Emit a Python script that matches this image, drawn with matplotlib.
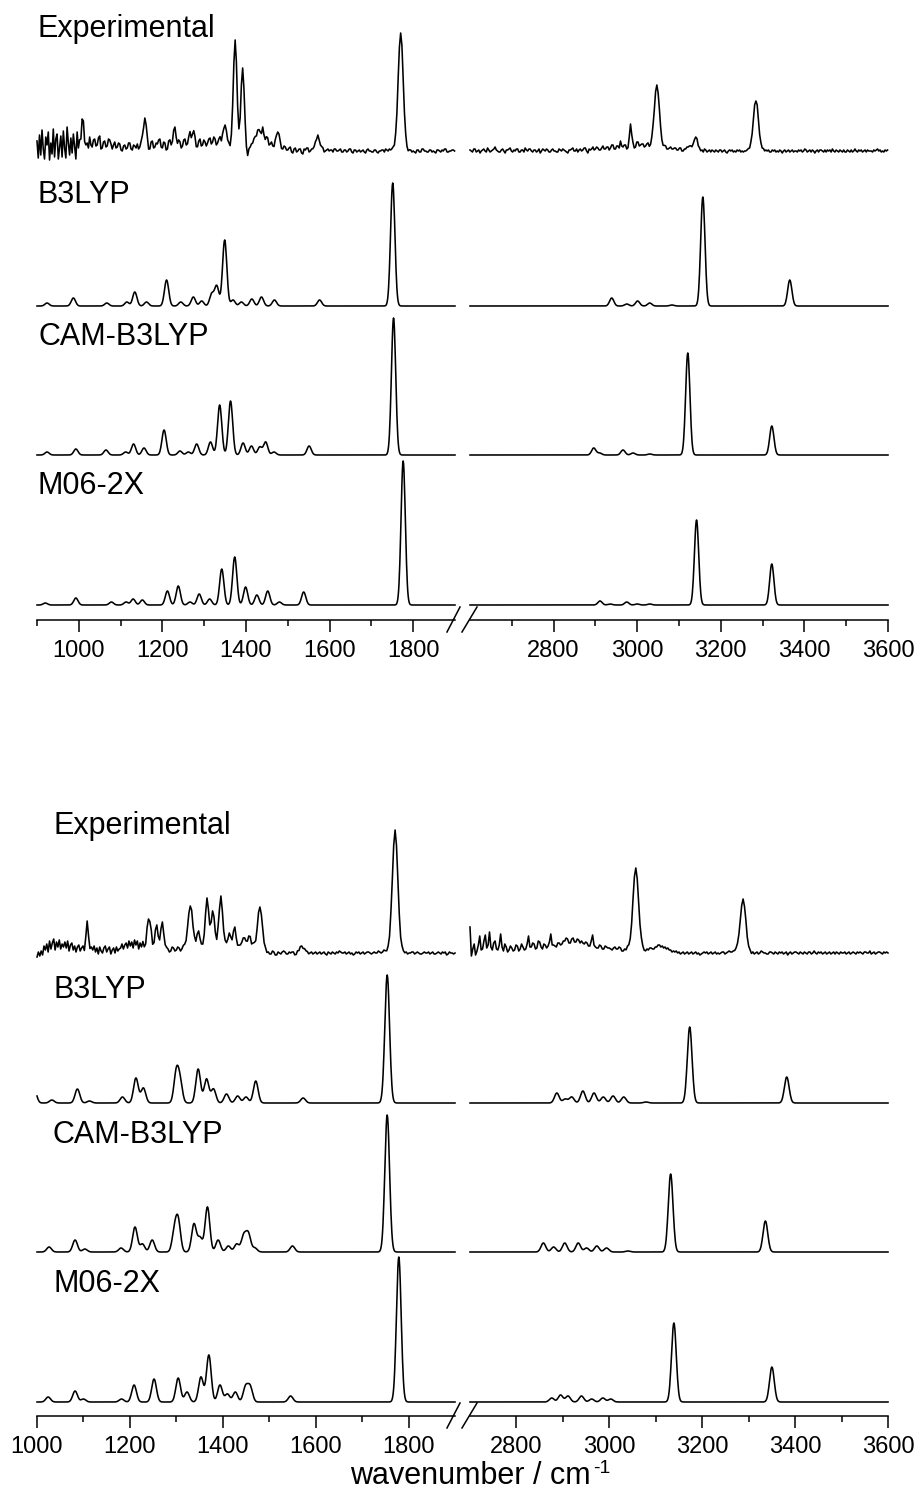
import numpy as np
import matplotlib
matplotlib.use("Agg")
import matplotlib.pyplot as plt
from matplotlib.lines import Line2D

plt.rcParams['font.family'] = ['Liberation Sans', 'DejaVu Sans']

# ------------------------------------------------------------------ data
labels = ["Experimental", "B3LYP", "CAM-B3LYP", "M06-2X"]
xlabel_main = "wavenumber / cm"
xlabel_sup = "-1"

top_left_range = (900, 1900)
top_right_range = (2600, 3600)
bot_left_range = (1000, 1900)
bot_right_range = (2700, 3600)

left_major = [1000, 1200, 1400, 1600, 1800]
top_left_minor = [900, 1100, 1300, 1500, 1700]
bot_left_minor = [1100, 1300, 1500, 1700]
right_major = [2800, 3000, 3200, 3400, 3600]
top_right_minor = [2700, 2900, 3100, 3300, 3500]
bot_right_minor = [2900, 3100, 3300, 3500]

exp_step = 3  # cm-1 sampling of the experimental traces
calc_fwhm = 12

# ---- upper panel: experimental (peaks + read-off baseline wiggle)
exp1_left_pos = [1008, 1158, 1230, 1272, 1350, 1374, 1392, 1428, 1440, 1476, 1572, 1770]
exp1_left_amp = [20, 30, 10, 12, 20, 109, 81, 12, 12, 16, 14, 119]
exp1_left_fwhm = [6, 8, 10, 10, 10, 10, 10, 8, 8, 8, 10, 14]
exp1_left_noise = [
    10, -7, 16, -4, 21, 2, -8, 14, 6, 19, -9, 8, -3, 22, -6, 12, 17, -8, 4, 15,
    -6, 20, 3, -7, 24, 8, -4, 13, -2, 17, 5, -8, 19, 3, 10, 2, 12, 20, 8, 6,
    8, 3, 14, 6, 4, 11, 12, 5, 6, 13, 15, 2, 3, 9, 10, 4, 5, 12, 11, 7,
    2, 6, 9, 3, 4, 8, 7, 1, 0, 5, 6, 2, 3, 8, 8, 2, 1, 6, 5, 3,
    7, 2, 4, 9, 9, 3, 3, 6, 8, 1, 2, 9, 10, 3, 4, 8, 7, 11, 12, 4,
    3, 9, 8, 1, 2, 10, 11, 5, 6, 13, 14, 6, 4, 10, 9, 3, 5, 11, 12, 6,
    7, 13, 15, 4, 5, 11, 10, 3, 4, 10, 12, 5, 6, 11, 9, 5, 8, 12, 13, 7,
    9, 14, 12, 6, 8, 12, 14, 8, 10, 7, 6, 5, 4, 6, 3, 5, 5, 3, 2, 4,
    3, 2, 1, 3, 2, 0, 0, -4, -6, 2, 4, 7, 8, 12, 12, 7, 9, 13, 14, 9,
    12, 8, 9, 14, 13, 6, 7, 9, 5, 4, 8, 5, 3, 6, 6, 2, 2, 5, 4, 1,
    1, 3, 4, -1, -2, 2, 3, -1, 0, 2, 2, -2, -3, 2, 1, 3, 3, -1, 0, 2,
    2, 3, 4, 1, 2, 0, 1, 3, 3, -1, 0, 1, 2, 0, 1, 1, -1, 2, 2, 0,
    0, 1, 2, -1, -1, 1, 1, -1, 0, 2, 2, -1, -2, 1, 1, -1, 0, 1, -1, 0,
    1, -1, -2, 1, 2, 0, 0, -1, -1, 1, 1, -1, -2, 0, 0, 1, 1, -1, 2, 1,
    0, 2, 1, 2, 3, 1, 2, 0, 1, -1, -1, 1, 0, 1, 2, 0, -1, 1, 1, -1,
    0, -1, -2, 1, 1, -1, -1, 2, 2, 0, 0, -1, -1, 1, 1, -1, 0, -1, -2, 1,
    1, 0, -1, 1, 0, 2, 2, -1, -1, 0, 0, 1, 1, 0]
exp1_right_pos = [2984, 3047, 3140, 3284]
exp1_right_amp = [22, 64, 12, 48]
exp1_right_fwhm = [5, 14, 10, 14]
exp1_right_noise = [
    1, 0, -1, 2, 2, -1, 0, 1, -2, 0, 1, 2, 0, -1, 3, 1, -1, 0, 1, 2,
    4, 1, 0, -1, -1, 1, 2, 0, -2, 1, 1, 2, 3, 0, -1, 1, 0, 2, 2, -1,
    -1, 1, 1, -1, 3, 1, 0, 2, 2, 0, -1, 1, 1, -1, 0, 2, -2, 0, 2, 1,
    0, 2, 1, -1, -1, 1, 2, 0, 0, -1, -1, 2, 1, 0, 2, 1, 0, -1, -2, 1,
    1, 2, 3, 0, 0, 2, -1, 1, 2, 0, 1, 3, 3, 0, -2, 2, 1, 2, 4, 1,
    2, 4, 3, 1, 1, 3, 5, 2, 2, 4, 4, 1, 3, 6, 6, 2, 2, 5, 5, 3,
    10, 5, 4, 6, 6, 2, 3, 6, 5, 8, 8, 3, 4, 9, 9, 5, 6, 7, 7, 4,
    5, 7, 8, 4, 4, 6, 6, 3, 3, 2, 2, 4, 4, 3, 3, 5, 5, 2, 2, 3,
    4, 2, 2, 3, 3, 1, 1, 3, 3, 0, 0, 2, 2, 4, 4, 5, 5, 3, 3, 2,
    2, 3, 1, 2, 0, 1, -1, 2, 1, -1, 0, 1, -1, 1, 0, -1, 1, 0, -1, 1,
    1, -1, 0, 1, -1, -2, 0, 1, 0, 1, -1, 0, -1, 1, 0, 1, -1, 0, -1, 0,
    0, 1, 2, 1, 3, 2, 3, 4, 2, 4, 3, 1, 2, 1, 2, 0, 1, 0, 1, -1,
    -1, 1, 0, 1, -1, 0, -1, 1, 0, -2, 0, 1, -1, 0, 1, -1, 0, 1, -1, 0,
    0, -1, 1, 0, 1, -1, 0, 2, 1, -1, 0, 1, -1, 1, 0, -2, 0, 1, -1, 1,
    1, 0, -1, 1, -1, 1, 0, 1, -1, 2, 0, -1, 1, 0, -1, 1, 0, -1, 1, -1,
    -1, 1, 0, -1, 1, -1, 0, 2, 0, -1, 1, 0, 1, -1, 0, 1, -1, 1, 0, 0,
    0, -1, 1, 0, 1, 2, 0, 1, -1, 0, -1, 1, 0, 1]

# ---- upper panel: calculated (position cm-1, intensity)
b3lyp1_left_pos = [924, 987, 1067, 1115, 1134, 1162, 1210, 1244, 1274, 1294, 1318, 1330,
                   1349, 1369, 1389, 1414, 1437, 1468, 1576, 1751]
b3lyp1_left_amp = [3, 8, 3, 4, 14, 4, 26, 4, 9, 5, 12, 20, 66, 6, 4, 7, 9, 6, 6, 123]
b3lyp1_right_pos = [2939, 2975, 3001, 3030, 3083, 3157, 3365]
b3lyp1_right_amp = [8, 2, 5, 3, 1, 109, 26]

cam1_left_pos = [924, 993, 1065, 1112, 1131, 1156, 1204, 1242, 1262, 1282, 1315, 1337, 1363,
                 1393, 1413, 1433, 1447, 1467, 1551, 1753]
cam1_left_amp = [3, 6, 5, 3, 11, 7, 25, 4, 3, 11, 13, 50, 54, 12, 9, 8, 13, 3, 9, 137]
cam1_right_pos = [2896, 2910, 2966, 2990, 3030, 3121, 3322]
cam1_right_amp = [7, 2, 5, 2, 1, 102, 29]

m06_1_left_pos = [920, 993, 1078, 1113, 1130, 1152, 1212, 1238, 1266, 1288, 1313, 1342, 1373,
                  1399, 1426, 1452, 1480, 1538, 1776]
m06_1_left_amp = [2, 7, 3, 3, 6, 5, 14, 19, 3, 11, 6, 36, 48, 18, 10, 14, 3, 13, 144]
m06_1_right_pos = [2911, 2935, 2975, 3000, 3030, 3142, 3322]
m06_1_right_amp = [4, 1, 3, 1, 1, 85, 41]

# ---- lower panel: experimental
exp2_left_pos = [1108, 1240, 1258, 1270, 1330, 1348, 1366, 1378, 1396, 1414, 1426, 1444,
                 1456, 1480, 1570, 1771]
exp2_left_amp = [24, 30, 18, 25, 45, 14, 50, 36, 52, 16, 18, 10, 14, 40, 4, 120]
exp2_left_fwhm = [6, 10, 8, 8, 12, 8, 8, 8, 10, 8, 8, 8, 8, 12, 14, 14]
exp2_left_noise = [
    -4, 1, -3, 2, -2, 7, 3, 9, 1, 12, 4, 10, 14, 3, 11, 6, 13, 4, 9, 6,
    11, 5, 12, 2, 8, 10, 3, 7, 1, 6, 8, 2, 5, 7, 1, 4, 8, 5, 3, 6,
    3, 7, 1, 5, -1, 6, 2, 0, 5, 7, 1, 4, 6, -1, 3, 5, 0, 6, 2, 4,
    5, 9, 4, 8, 10, 5, 12, 7, 11, 5, 13, 8, 12, 4, 10, 6, 11, 3, -2, 2,
    4, 8, 12, 5, 6, 11, 10, 4, 4, 7, 6, 2, 3, 5, 4, 1, 2, 6, 5, 2,
    3, 6, 5, 2, 4, 7, 6, 3, 3, 2, 2, 5, 4, 7, 6, 9, 8, 5, 6, 7,
    8, 6, 5, 9, 10, 5, 6, 12, 12, 7, 8, 4, 5, 2, 3, 7, 6, 3, 4, 5,
    6, 9, 8, 3, 4, 7, 6, 4, 5, 8, 7, 2, 3, 7, 6, 9, 8, 4, 5, 7,
    6, 5, 4, 2, 3, 0, 1, -1, -1, 2, 1, -2, -2, 1, 0, -1, 1, 2, 1, -1,
    -1, 1, 0, 1, 1, -2, -2, 1, 0, 3, 3, 1, 2, 1, 1, -1, 0, 1, -1, 0,
    1, -1, 0, 1, -1, 0, 1, -1, -2, 1, 0, -1, 1, 0, -1, 1, 0, 2, 1, 0,
    0, 1, -1, 0, 1, -1, 0, -2, -1, 1, 0, 1, -1, 0, 1, -1, 0, 1, 1, 0,
    -1, 0, 1, 0, 0, 2, 1, 0, 1, 3, 2, 1, 2, 1, 3, 1, 2, 3, 2, 1,
    1, 0, 2, 1, 0, 1, -1, 0, 0, 1, 1, -1, 0, 1, 0, -1, -1, 0, 1, 0,
    0, 1, -1, 0, 1, -1, -1, 0, 1, 0, -1, 1, 0, 1, -2, -1, 1, 0, 0, -1,
    0]
exp2_right_pos = [3057, 3288]
exp2_right_amp = [80, 53]
exp2_right_fwhm = [14, 14]
exp2_right_noise = [
    26, -3, 4, 9, -2, 2, 8, 17, 3, 4, 12, 18, 5, 8, 21, 6, 3, 10, 12, 4,
    3, 8, 19, 6, 2, 9, 6, 1, 3, 7, 5, 2, 3, 8, 7, 2, 4, 9, 6, 3,
    4, 9, 17, 6, 6, 10, 9, 4, 5, 12, 11, 6, 4, 9, 8, 5, 7, 11, 19, 8,
    8, 7, 6, 10, 10, 8, 9, 12, 12, 15, 14, 10, 10, 14, 15, 11, 11, 14, 13, 10,
    12, 10, 9, 11, 10, 7, 7, 12, 18, 8, 6, 5, 5, 8, 7, 4, 4, 7, 6, 5,
    5, 4, 3, 5, 6, 4, 4, 6, 5, 2, 2, 4, 3, 6, 5, 4, 4, 6, 6, 5,
    4, 3, 3, 5, 4, 2, 2, 4, 3, 5, 5, 4, 4, 6, 6, 8, 8, 6, 7, 5,
    6, 4, 5, 3, 3, 1, 2, 1, 2, 0, 1, -1, 0, 1, -1, 0, 1, -1, 0, 1,
    -1, 0, 1, -1, 0, -2, -1, 0, 1, 0, 1, -1, 0, 1, -1, 0, 1, -1, 0, -1,
    0, 1, 1, -1, 0, 1, 2, 1, 1, 2, 2, 3, 3, 2, 2, 1, 1, 0, 1, -1,
    0, 1, -1, 1, -1, 0, 1, -1, 0, 2, 1, 0, 0, -1, -1, 1, 1, 0, -1, 1,
    0, -1, 1, 0, 1, -1, 0, 1, -2, 0, 1, -1, 0, 1, 1, 0, -1, 1, 0, -1,
    1, 0, -1, 1, 1, -1, 0, 2, 0, -1, 1, 0, 1, -1, 0, 1, -1, 0, 1, -1,
    0, 1, -1, 1, 0, -1, 1, 0, 0, 1, -1, 0, 1, -1, 0, 1, 0, -1, 1, 0,
    1, 0, -1, 1, 1, 0, 0, 2, -1, 0, 1, -1, 0, 1, 1, 0, -1, 1, 0, 1,
    0]

# ---- lower panel: calculated
b3lyp2_left_pos = [994, 1032, 1087, 1113, 1184, 1213, 1229, 1300, 1308, 1347, 1365, 1380,
                   1408, 1432, 1450, 1471, 1573, 1754]
b3lyp2_left_amp = [14, 3, 14, 2, 6, 25, 15, 30, 20, 34, 24, 14, 9, 7, 6, 22, 5, 128]
b3lyp2_right_pos = [2887, 2905, 2919, 2943, 2967, 2987, 3008, 3031, 3079, 3173, 3382]
b3lyp2_right_amp = [10, 4, 6, 12, 10, 6, 7, 6, 1, 76, 26]

cam2_left_pos = [1026, 1082, 1103, 1181, 1211, 1227, 1248, 1296, 1304, 1338, 1351, 1367,
                 1390, 1412, 1430, 1445, 1455, 1469, 1550, 1754]
cam2_left_amp = [5, 12, 3, 4, 25, 8, 12, 20, 30, 28, 14, 45, 12, 6, 8, 16, 18, 4, 6, 137]
cam2_right_pos = [2858, 2880, 2904, 2933, 2951, 2973, 2994, 3040, 3132, 3336]
cam2_right_amp = [9, 5, 9, 9, 4, 6, 4, 1, 78, 31]

m06_2_left_pos = [1024, 1082, 1100, 1182, 1209, 1252, 1304, 1323, 1353, 1370, 1394, 1410,
                  1427, 1449, 1459, 1546, 1779]
m06_2_left_amp = [5, 11, 3, 3, 17, 23, 24, 10, 25, 47, 17, 8, 10, 15, 15, 6, 145]
m06_2_right_pos = [2876, 2895, 2911, 2940, 2962, 2986, 3003, 3139, 3350]
m06_2_right_amp = [4, 7, 6, 6, 3, 4, 3, 79, 35]

# ------------------------------------------------------------------ helpers
W, H = 919, 1498
fig = plt.figure(figsize=(W / 100, H / 100), dpi=100)


def gauss_sum(x, pos, amp, fwhm):
    x = np.asarray(x, float)[:, None]
    pos = np.asarray(pos, float)[None, :]
    amp = np.asarray(amp, float)[None, :]
    sig = np.broadcast_to(np.asarray(fwhm, float), pos.shape) / 2.3548
    return (amp * np.exp(-0.5 * ((x - pos) / sig) ** 2)).sum(axis=1)


def make_ax(x0, x1, ytop, ybot, xr, major, minor):
    ax = fig.add_axes([x0 / W, 1 - ybot / H, (x1 - x0) / W, (ybot - ytop) / H])
    ax.set_xlim(*xr)
    ax.set_ylim(0, ybot - ytop)
    for s in ("left", "right", "top"):
        ax.spines[s].set_visible(False)
    ax.spines["bottom"].set_linewidth(1.1)
    ax.set_yticks([])
    ax.set_xticks(major)
    ax.set_xticks(minor, minor=True)
    ax.tick_params(axis="x", which="major", direction="out", length=8.5, width=1.1,
                   labelsize=17, pad=6)
    ax.tick_params(axis="x", which="minor", direction="out", length=4, width=1.1)
    ax.patch.set_alpha(0)
    return ax


def plot_exp(ax, xr, pos, amp, fwhm, noise, base):
    x = xr[0] + exp_step * np.arange(len(noise))
    y = gauss_sum(x, pos, amp, fwhm) + np.asarray(noise, float)
    ax.plot(x, base + y, color="black", lw=1.15, clip_on=False)


def plot_calc(ax, xr, pos, amp, base):
    x = np.arange(xr[0], xr[1] + 0.5, 1.0)
    y = gauss_sum(x, pos, amp, calc_fwhm)
    ax.plot(x, base + y, color="black", lw=1.15, clip_on=False)


def break_marks(yaxis):
    for (xa, xb) in [(447, 460), (462, 477)]:
        fig.add_artist(Line2D([xa / W, xb / W], [1 - (yaxis + 12) / H, 1 - (yaxis - 13) / H],
                              transform=fig.transFigure, color="black", lw=1.1))


# ------------------------------------------------------------------ upper panel
y_axis1 = 620
bases1 = [469, 314, 165, 15]
axTL = make_ax(37, 455, 5, y_axis1, top_left_range, left_major, top_left_minor)
axTR = make_ax(470, 888, 5, y_axis1, top_right_range, right_major, top_right_minor)

plot_exp(axTL, top_left_range, exp1_left_pos, exp1_left_amp, exp1_left_fwhm, exp1_left_noise, bases1[0])
plot_exp(axTR, top_right_range, exp1_right_pos, exp1_right_amp, exp1_right_fwhm, exp1_right_noise, bases1[0])
plot_calc(axTL, top_left_range, b3lyp1_left_pos, b3lyp1_left_amp, bases1[1])
plot_calc(axTR, top_right_range, b3lyp1_right_pos, b3lyp1_right_amp, bases1[1])
plot_calc(axTL, top_left_range, cam1_left_pos, cam1_left_amp, bases1[2])
plot_calc(axTR, top_right_range, cam1_right_pos, cam1_right_amp, bases1[2])
plot_calc(axTL, top_left_range, m06_1_left_pos, m06_1_left_amp, bases1[3])
plot_calc(axTR, top_right_range, m06_1_right_pos, m06_1_right_amp, bases1[3])
break_marks(y_axis1)

for lab, yb in zip(labels, [37, 203, 345, 494]):
    fig.text(38 / W, 1 - yb / H, lab, fontsize=22, ha="left", va="baseline")

# ------------------------------------------------------------------ lower panel
y_axis2 = 1416
bases2 = [463, 313, 164, 14]
axBL = make_ax(37, 455, 800, y_axis2, bot_left_range, left_major, bot_left_minor)
axBR = make_ax(470, 888, 800, y_axis2, bot_right_range, right_major, bot_right_minor)

plot_exp(axBL, bot_left_range, exp2_left_pos, exp2_left_amp, exp2_left_fwhm, exp2_left_noise, bases2[0])
plot_exp(axBR, bot_right_range, exp2_right_pos, exp2_right_amp, exp2_right_fwhm, exp2_right_noise, bases2[0])
plot_calc(axBL, bot_left_range, b3lyp2_left_pos, b3lyp2_left_amp, bases2[1])
plot_calc(axBR, bot_right_range, b3lyp2_right_pos, b3lyp2_right_amp, bases2[1])
plot_calc(axBL, bot_left_range, cam2_left_pos, cam2_left_amp, bases2[2])
plot_calc(axBR, bot_right_range, cam2_right_pos, cam2_right_amp, bases2[2])
plot_calc(axBL, bot_left_range, m06_2_left_pos, m06_2_left_amp, bases2[3])
plot_calc(axBR, bot_right_range, m06_2_right_pos, m06_2_right_amp, bases2[3])
break_marks(y_axis2)

for lab, yb in zip(labels, [834, 998, 1143, 1292]):
    fig.text(53 / W, 1 - yb / H, lab, fontsize=22, ha="left", va="baseline")

fig.text(350 / W, 1 - 1484 / H, xlabel_main, fontsize=22, ha="left", va="baseline")
fig.text(593 / W, 1 - 1473 / H, xlabel_sup, fontsize=14, ha="left", va="baseline")

fig.savefig("out.png", dpi=100)
